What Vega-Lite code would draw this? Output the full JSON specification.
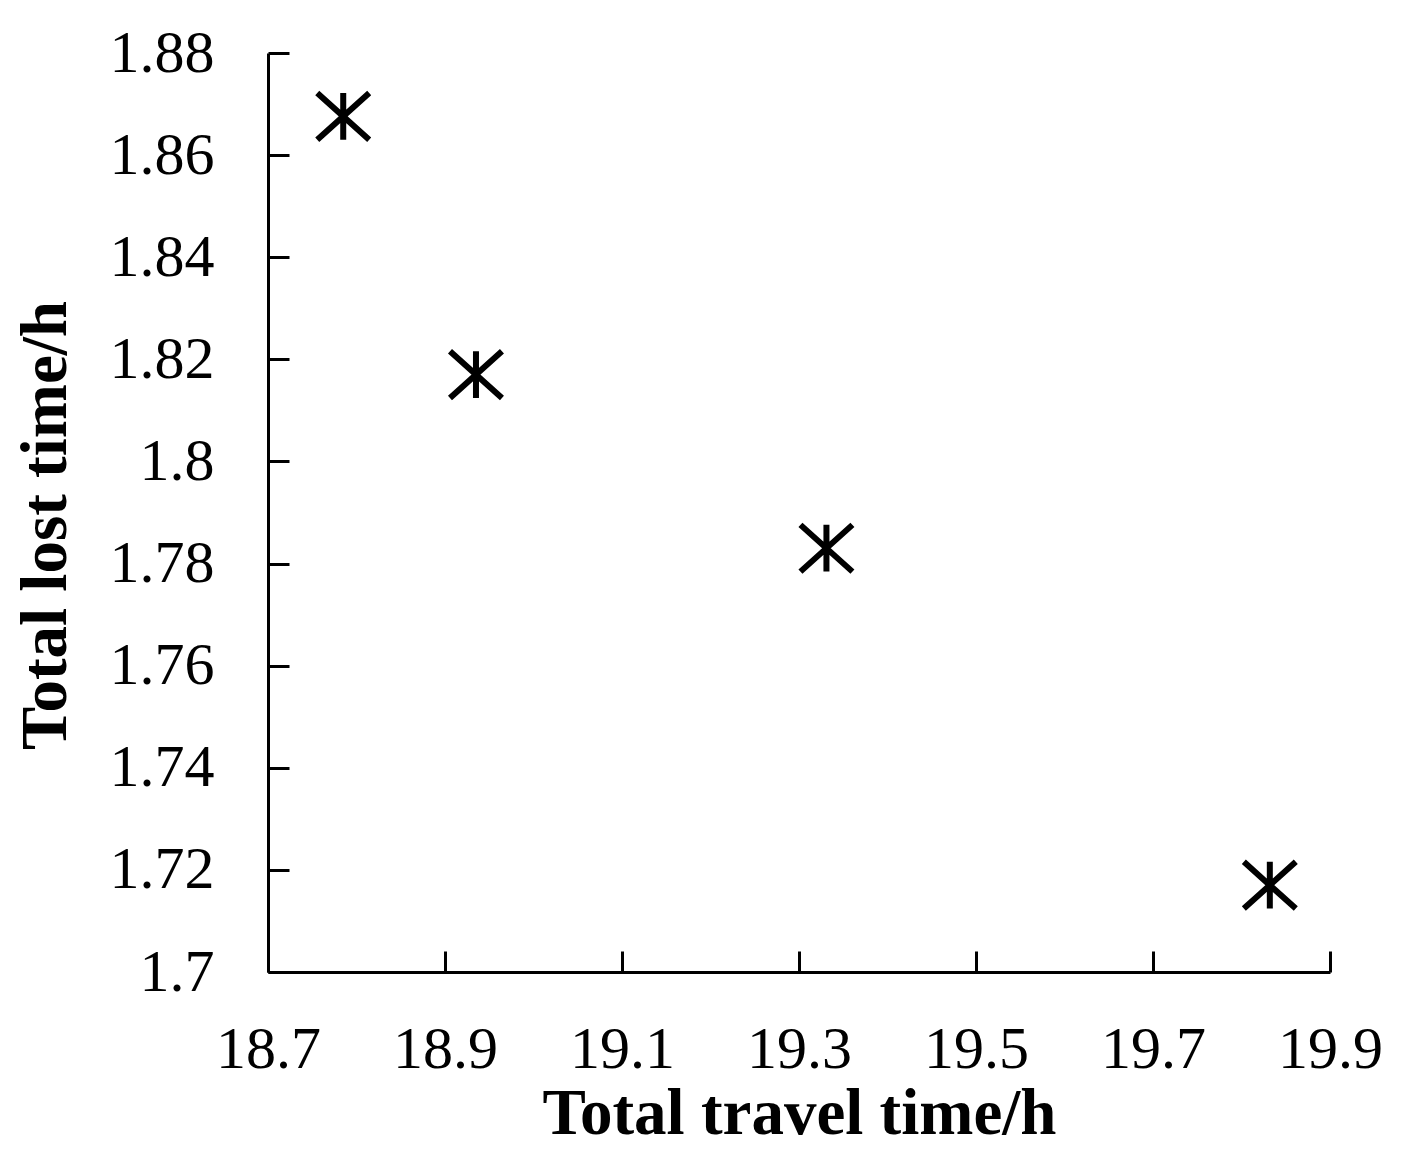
{
  "$schema": "https://vega.github.io/schema/vega-lite/v6.json",
  "autosize": "none",
  "width": 1062,
  "height": 919,
  "padding": {"left": 268, "top": 53, "right": 82, "bottom": 185},
  "background": "white",
  "config": {
    "view": {"stroke": null},
    "font": "Liberation Serif"
  },
  "data": {
    "values": [
      {"travel": 18.785, "lost": 1.8676},
      {"travel": 18.935, "lost": 1.817},
      {"travel": 19.331, "lost": 1.783},
      {"travel": 19.832, "lost": 1.717}
    ]
  },
  "mark": {
    "type": "point",
    "shape": "M-1,-0.9L1,0.9M1,-0.9L-1,0.9M0,-0.9L0,0.9",
    "size": 2700,
    "stroke": "black",
    "strokeWidth": 6,
    "filled": false,
    "opacity": 1
  },
  "encoding": {
    "x": {
      "field": "travel",
      "type": "quantitative",
      "scale": {"domain": [18.7, 19.9], "nice": false, "zero": false},
      "axis": {
        "values": [18.7, 18.9, 19.1, 19.3, 19.5, 19.7, 19.9],
        "format": ".1f",
        "grid": false,
        "domainColor": "black",
        "domainWidth": 3,
        "tickColor": "black",
        "tickWidth": 3,
        "tickSize": -21,
        "labelFont": "Liberation Serif",
        "labelFontSize": 60,
        "labelColor": "black",
        "labelBaseline": "alphabetic",
        "labelPadding": 116,
        "labelFlush": false,
        "labelOverlap": false,
        "title": "Total travel time/h",
        "titleFont": "Liberation Serif",
        "titleFontSize": 65,
        "titleFontWeight": "bold",
        "titleColor": "black",
        "titleBaseline": "alphabetic",
        "titleY": 161
      }
    },
    "y": {
      "field": "lost",
      "type": "quantitative",
      "scale": {"domain": [1.7, 1.88], "nice": false, "zero": false},
      "axis": {
        "values": [1.7, 1.72, 1.74, 1.76, 1.78, 1.8, 1.82, 1.84, 1.86, 1.88],
        "format": ".3~g",
        "grid": false,
        "domainColor": "black",
        "domainWidth": 3,
        "tickColor": "black",
        "tickWidth": 3,
        "tickSize": -21,
        "labelFont": "Liberation Serif",
        "labelFontSize": 60,
        "labelColor": "black",
        "labelPadding": 75,
        "labelFlush": false,
        "labelOverlap": false,
        "title": "Total lost time/h",
        "titleFont": "Liberation Serif",
        "titleFontSize": 65,
        "titleFontWeight": "bold",
        "titleColor": "black",
        "titleBaseline": "alphabetic",
        "titleAngle": -90,
        "titleX": -203,
        "titleY": 472
      }
    }
  }
}
